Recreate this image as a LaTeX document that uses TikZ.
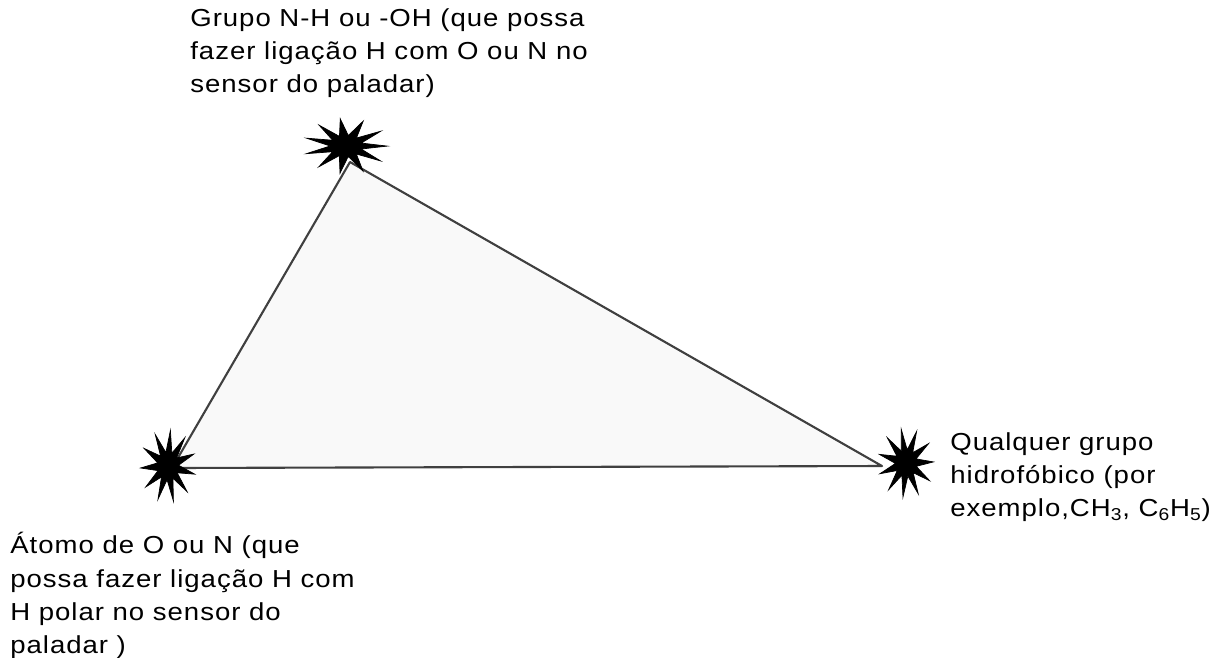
\documentclass[tikz,border=0pt]{standalone}
\usepackage{fontspec}
\setmainfont[FakeStretch=1.12, LetterSpace=4]{Liberation Sans}
\usetikzlibrary{shapes.geometric}
\begin{document}
\begin{tikzpicture}[
  x=0.02cm, y=-0.02cm,
  burst/.style={star, star points=11, star point ratio=2.6, fill=black, draw=black, inner sep=0pt, minimum size=1.1cm},
  label/.style={anchor=north west, align=left, inner sep=0pt, font=\fontsize{14}{19}\selectfont},
  side/.style={draw=black!75, line width=1.2pt, line join=round}
]
\useasboundingbox (0,0) rectangle (1220,657);
\coordinate (top) at (350,162);
\coordinate (left) at (172,468);
\coordinate (right) at (882,466);
\draw[side, fill=gray!5] (top) -- (left) -- (right) -- cycle;
\node[burst, xscale=1.5, rotate=8] (nh) at (346,146) {};
\node[burst, yscale=1.3, rotate=-5] (oxy) at (168,466) {};
\node[burst, yscale=1.25, rotate=10] (hyd) at (906,463) {};
\node[label] (nhtext) at (190,8) {Grupo N-H ou -OH (que possa\\fazer ligação H com O ou N no\\sensor do paladar)};
\node[label] (hydtext) at (950,432) {Qualquer grupo\\hidrofóbico (por\\exemplo,CH\textsubscript{3}, C\textsubscript{6}H\textsubscript{5})};
\node[label] (oxytext) at (10,532) {Átomo de O ou N (que\\possa fazer ligação H com\\H polar no sensor do\\paladar )};
\end{tikzpicture}
\end{document}
